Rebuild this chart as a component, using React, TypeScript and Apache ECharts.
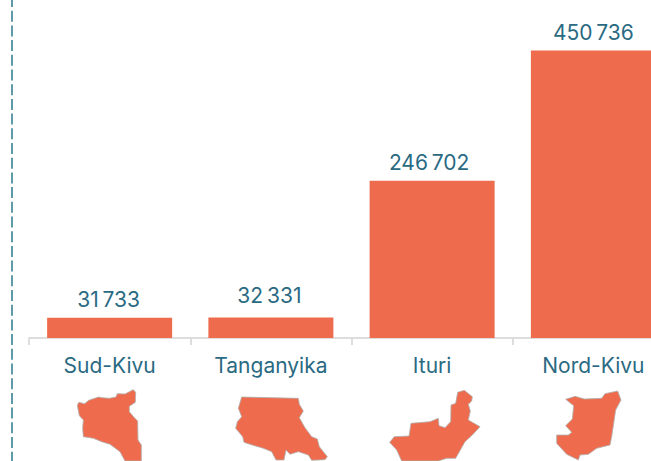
import React, { useEffect, useRef } from "react";
import * as echarts from "echarts";

const categories = ["Sud-Kivu", "Tanganyika", "Ituri", "Nord-Kivu"];
const values = [31733, 32331, 246702, 450736];
const valueLabels = ["31\u2009733", "32\u2009331", "246\u2009702", "450\u2009736"];
const labelOffsets = [[-1, 0], [-1.5, -3], [-3, 0], [0, 0]];

const ORANGE = "#EE6C4D";
const TEAL = "#2A6A82";

// Silhouettes, in page pixels
const at = (ox: number, oy: number, p: number[][]) => p.map(([x, y]) => [ox + x / 3, oy + y / 3]);

const sudKivuShape = at(70, 385, [[22,62],[26,52],[44,56],[56,46],[86,36],[96,38],[118,40],[138,36],[142,26],[165,27],[190,14],[197,22],[196,52],[178,64],[178,80],[192,97],[203,108],[204,165],[214,180],[214,228],[165,228],[150,200],[120,178],[95,170],[70,160],[40,155],[38,130],[40,105],[28,92]]);
const tanganyikaShape = at(230, 385, [[35,36],[205,40],[208,58],[220,78],[208,98],[225,128],[245,155],[262,162],[268,185],[292,215],[285,224],[245,226],[235,210],[205,200],[180,208],[168,195],[162,225],[138,225],[125,200],[100,190],[60,178],[42,172],[38,155],[17,130],[22,110],[35,95],[25,70]]);
const ituriShape = at(385, 385, [[14,172],[28,155],[72,153],[78,115],[135,110],[160,100],[162,122],[180,128],[197,110],[198,60],[212,55],[218,22],[238,16],[262,35],[260,48],[250,58],[256,78],[250,105],[285,125],[262,150],[240,170],[212,220],[185,220],[160,228],[50,228],[35,195]]);
const nordKivuShape = at(555, 385, [[32,43],[60,34],[88,42],[140,40],[150,26],[188,18],[198,45],[182,75],[170,155],[165,180],[125,190],[100,208],[75,210],[70,225],[35,208],[5,175],[5,150],[40,150],[50,142],[32,122],[52,102],[56,62]]);
const shapes = [sudKivuShape, tanganyikaShape, ituriShape, nordKivuShape];

export default function App() {
  const ref = useRef<HTMLDivElement>(null);
  useEffect(() => {
    const chart = echarts.init(ref.current!, undefined, { renderer: "svg" });
    chart.setOption({
      animation: false,
      textStyle: { fontFamily: "Inter" },
      grid: { left: 29, top: 0, width: 645, height: 338, outerBoundsMode: "none" },
      xAxis: {
        type: "category",
        data: categories,
        axisLine: { lineStyle: { color: "#DDDDDD", width: 2 } },
        axisTick: { show: true, length: 7, lineStyle: { color: "#DDDDDD", width: 2 } },
        axisLabel: { interval: 0, color: TEAL, fontSize: 21, fontFamily: "Inter", margin: 17, hideOverlap: false },
      },
      yAxis: { type: "value", min: 0, max: 530000, show: false, splitLine: { show: false } },
      series: [
        {
          type: "bar",
          barWidth: 125,
          itemStyle: { color: ORANGE },
          data: values.map((v, i) => ({
            value: v,
            label: {
              show: true,
              position: "top",
              distance: 8,
              offset: labelOffsets[i],
              formatter: () => valueLabels[i],
              color: TEAL,
              fontSize: 21,
              fontFamily: "Inter",
            },
          })),
        },
      ],
      graphic: [
        {
          type: "line",
          silent: true,
          shape: { x1: 12, y1: -4, x2: 12, y2: 461 },
          style: { stroke: "#5F9AA8", lineWidth: 2, lineDash: [11, 3.7] },
        },
        ...shapes.map((points) => ({
          type: "polygon",
          silent: true,
          shape: { points },
          style: { fill: ORANGE, stroke: "#B0B0B0", lineWidth: 0.8 },
        })),
      ],
    });
    return () => chart.dispose();
  }, []);
  return <div ref={ref} style={{ position: "absolute", left: 0, top: 0, width: 651, height: 461, overflow: "hidden" }} />;
}
